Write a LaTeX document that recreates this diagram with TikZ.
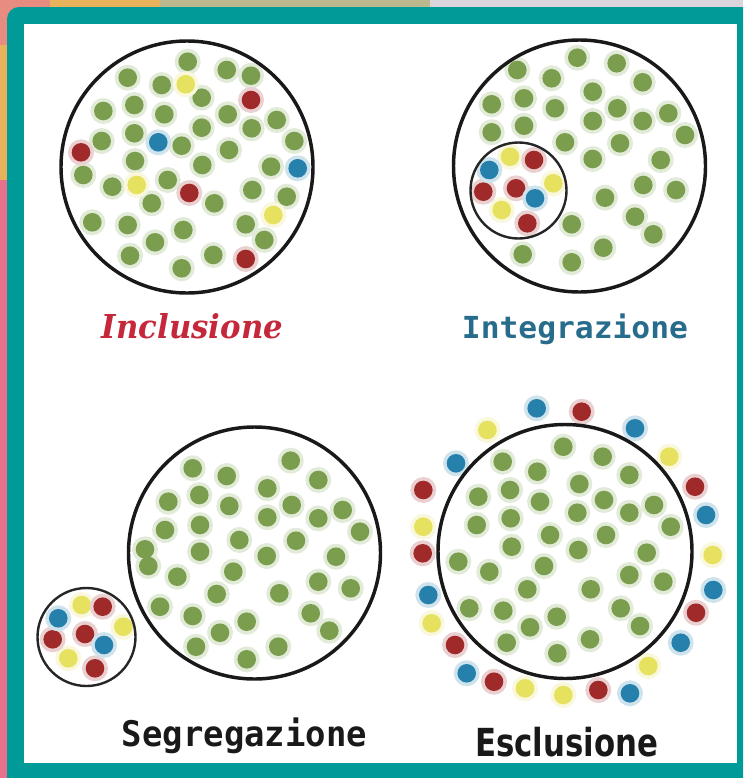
\documentclass[tikz,border=0pt]{standalone}
\usepackage{fontspec}
\newfontfamily\fincl{DejaVu Serif}
\newfontfamily\fmono{DejaVu Sans Mono}
\newfontfamily\fsansb{DejaVu Sans}
\definecolor{teal0}{RGB}{0,155,152}
\definecolor{dgreen}{RGB}{122,158,78}
\definecolor{dred}{RGB}{160,42,42}
\definecolor{dblue}{RGB}{38,128,172}
\definecolor{dyellow}{RGB}{230,225,95}
\definecolor{tred}{RGB}{196,40,58}
\definecolor{tblue}{RGB}{40,108,140}
\definecolor{bgpink}{RGB}{232,112,140}
\definecolor{bgsalmon}{RGB}{232,140,130}
\definecolor{bgorange}{RGB}{232,178,92}
\definecolor{bgkhaki}{RGB}{186,184,140}
\definecolor{bggrey}{RGB}{218,212,220}
\tikzset{
  ring/.style={draw=black!90, line width=2.6pt},
  smallring/.style={draw=black!85, line width=1.8pt},
  lbl/.style={anchor=base, inner sep=0pt},
}
\newcommand\halos[2]{\foreach \px/\py in {#2} {\fill[#1!22] (\px,\py) circle[radius=13];}}
\newcommand\cores[2]{\foreach \px/\py in {#2} {\fill[#1] (\px,\py) circle[radius=9.3];}}
\newcommand\dotset[2]{\halos{#1}{#2}\cores{#1}{#2}}
\begin{document}
\begin{tikzpicture}[x=0.75pt,y=-0.75pt]
\useasboundingbox (0,0) rectangle (743,778);
\clip (0,0) rectangle (743,778);
% outside background
\fill[bgpink] (0,0) rectangle (743,778);
\fill[bgsalmon] (0,0) rectangle (50,45);
\fill[bgorange] (50,0) rectangle (160,7);
\fill[bgorange] (0,45) rectangle (7,180);
\fill[bgkhaki] (160,0) rectangle (430,7);
\fill[bggrey] (430,0) rectangle (743,7);
% teal frame and white panel
\fill[teal0, rounded corners=9] (7,7) rectangle (770,800);
\fill[white] (24,24) rectangle (737,763);
% Inclusione dots
\dotset{dgreen}{187.7/61.7,226.7/70,251/75.7,127.7/77.7,161.7/85,201.7/97.7,103.3/111,134.3/105,164.3/114.3,227.7/114.3,276.7/120,251.7/128.3,201.7/127.7,134.3/133.3,101.7/141,181.7/145.7,229/150,294.3/141,135/161,202.3/165,271/166.7,83.3/175,112.3/186.7,167.7/180,252.3/190,286.7/196.7,151.7/203.3,214.3/203.3,92.3/222.3,127.7/225,183.3/230,245.7/224.3,264.3/240,155/242.3,130/255.7,213.3/255,181.7/268.3}
\dotset{dyellow}{185.7/84.3,136.7/185,273.3/215}
\dotset{dred}{251/100,81/152.3,189.3/193,245.7/259}
\dotset{dblue}{158.3/142.3,297.7/168.3}
% Integrazione dots
\dotset{dgreen}{577.3/57.7,616.7/63.3,517.3/70,551.7/78.3,642.7/82.3,592.7/91.7,524/98.3,491.7/104.3,617.3/108.3,555/108.3,592.7/121,642.7/121,668.3/113.3,491.7/132.3,524/125.7,565/142.3,620/143.3,685/135,592.7/159,660.7/160,643.3/185,676/190,605/197.7,635/216.7,571.7/224.3,653.3/234.3,603.3/247.7,522.7/254.3,571.7/262.3}
\dotset{dyellow}{510/156.7,553.3/183.3,501.7/210}
\dotset{dred}{534/160,516/188.3,483.3/191.7,527.3/223.3}
\dotset{dblue}{489.3/170,535/198.3}
% Segregazione dots
\dotset{dgreen}{192.7/468.3,226.7/476,290.7/460.7,318.3/480,267.3/488.3,168.3/501.7,199.3/495,229.3/506,291.7/505,267.3/517.3,318.3/518.3,342.7/510,165/530,200/525,239.3/540,296/540.7,360/531.7,145/549.3,148.3/566,200/551.7,266.7/556,336/556.7,177.3/576.7,233.3/571.7,318.3/581.7,350.7/588.3,216.7/594,279.3/593.3,160/606.7,192.7/616,246.7/621.7,310.7/613.3,329.3/630.7,220/632.7,196/646.7,278.3/646.7,246.7/659.3}
\dotset{dyellow}{81.7/605,123.3/626.7,68.3/658.3}
\dotset{dred}{102.7/606.7,85/634,52.7/639.3,95/668.3}
\dotset{dblue}{58.3/618.3,104/645}
% Esclusione dots
\dotset{dgreen}{563.3/446.7,602.7/456.7,502.7/461.7,537.3/471.7,629.3/475,579.3/484,478.3/496.7,510/490,540/501.7,604/500,654/505,629.3/512.7,577.3/512.7,476.7/525,510.7/518.3,550/535,606/535,670.7/526.7,511.7/546.7,578.3/550,646.7/552.7,458.3/561.7,489.3/571.7,544/566,629.3/575,663.3/581.7,527.3/589.3,590.7/589.3,469.3/608.3,503.3/610.7,556.7/616.7,620.7/608.3,640/626,530/627.3,506.7/642.7,590/639.3,557.3/653.3}
\dotset{dyellow}{487.3/430,669.3/456.7,423.3/526.7,712.7/555,431.7/623.3,648.3/666,525/688.3,563.3/695}
\dotset{dred}{581.7/411.7,423.3/490,695/486.7,422.7/553.3,696/612.7,455/645,494/681.7,598.3/690}
\dotset{dblue}{536.7/408.3,635/428.3,456/463.3,706/515,428.3/595,713.3/590,680.7/642.7,466.7/673.3,630/693.3}
% circles
\draw[ring] (187,167) circle[radius=126];
\draw[ring] (579.5,166) circle[radius=126];
\draw[smallring] (518.5,190.5) circle[radius=48];
\draw[ring] (254.5,553) circle[radius=126];
\draw[smallring] (86.5,637) circle[radius=49];
\draw[ring] (565,551.5) circle[radius=127];
% labels
\node[lbl, text=tred] (tIncl) at (192.5,338) {\resizebox{135.75pt}{18.75pt}{\fincl\bfseries\itshape Inclusione}};
\node[lbl, text=tblue] (tInt) at (575,338) {\resizebox{169.5pt}{18.5pt}{\fmono\bfseries Integrazione}};
\node[lbl, text=black!90] (tSeg) at (244.5,746) {\resizebox{183.75pt}{21.5pt}{\fmono\bfseries Segregazione}};
\node[lbl, text=black!90] (tEsc) at (566.5,756) {\resizebox{137.25pt}{22pt}{\fsansb\bfseries Esclusione}};
\end{tikzpicture}
\end{document}
